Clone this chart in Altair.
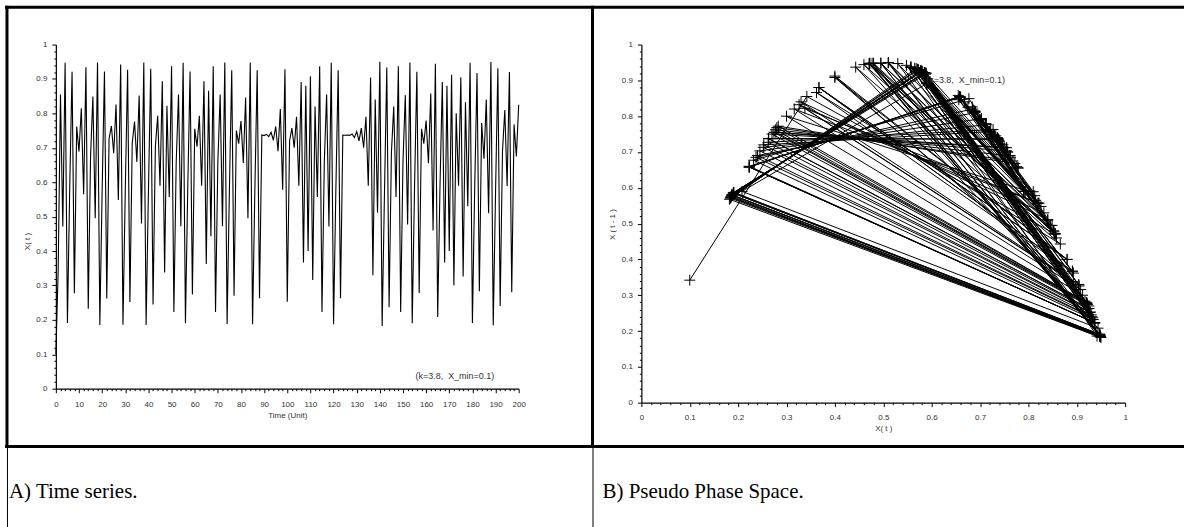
import altair as alt
import pandas as pd

# ---------------- data ----------------
t_values = list(range(201))
x_values = [
    0.100, 0.342, 0.855, 0.471, 0.947, 0.191, 0.587, 0.921, 0.277, 0.762,
    0.689, 0.815, 0.565, 0.934, 0.232, 0.677, 0.849, 0.495, 0.948, 0.185,
    0.575, 0.922, 0.262, 0.727, 0.763, 0.684, 0.826, 0.548, 0.942, 0.186,
    0.577, 0.927, 0.252, 0.713, 0.776, 0.659, 0.852, 0.480, 0.948, 0.185,
    0.573, 0.930, 0.245, 0.703, 0.793, 0.590, 0.893, 0.338, 0.822, 0.557,
    0.937, 0.223, 0.658, 0.855, 0.472, 0.947, 0.190, 0.585, 0.922, 0.274,
    0.755, 0.703, 0.793, 0.590, 0.893, 0.362, 0.866, 0.443, 0.937, 0.223,
    0.658, 0.855, 0.472, 0.948, 0.188, 0.580, 0.925, 0.270, 0.750, 0.712,
    0.778, 0.656, 0.846, 0.495, 0.948, 0.187, 0.580, 0.925, 0.263, 0.7375,
    0.7355, 0.7390, 0.7325, 0.745, 0.722, 0.762, 0.690, 0.813, 0.578, 0.928,
    0.253, 0.720, 0.757, 0.700, 0.790, 0.590, 0.891, 0.367, 0.880, 0.400,
    0.908, 0.316, 0.820, 0.557, 0.937, 0.223, 0.658, 0.855, 0.471, 0.947,
    0.187, 0.580, 0.925, 0.263, 0.7370, 0.7366, 0.7372, 0.7361, 0.7400, 0.7295,
    0.747, 0.720, 0.757, 0.700, 0.790, 0.590, 0.904, 0.330, 0.840, 0.511,
    0.950, 0.182, 0.568, 0.933, 0.237, 0.685, 0.820, 0.557, 0.937, 0.223,
    0.660, 0.853, 0.477, 0.948, 0.190, 0.585, 0.921, 0.278, 0.755, 0.712,
    0.779, 0.655, 0.858, 0.460, 0.944, 0.208, 0.590, 0.891, 0.367, 0.880,
    0.400, 0.912, 0.300, 0.800, 0.590, 0.905, 0.326, 0.832, 0.530, 0.947,
    0.191, 0.587, 0.917, 0.283, 0.772, 0.668, 0.840, 0.510, 0.949, 0.184,
    0.571, 0.931, 0.240, 0.690, 0.810, 0.589, 0.920, 0.280, 0.768, 0.675,
    0.825,
]

ts_title_x = "Time (Unit)"
ts_title_y = "X( t )"
ph_title_x = "X( t )"
ph_title_y = "X ( t - 1 )"
note_label = "(k=3.8,\u00a0 X_min=0.1)"
caption_a = "A) Time series."
caption_b = "B) Pseudo Phase Space."

time_major = list(range(0, 201, 10))
time_minor = [v for v in range(0, 201, 2) if v % 10 != 0]
unit_major = [i / 10 for i in range(11)]
unit_minor = [i / 50 for i in range(51) if i % 5 != 0]

ts = pd.DataFrame({"t": t_values, "x": x_values})
ph = pd.DataFrame({"step": t_values[:-1], "xt": x_values[:-1], "xnext": x_values[1:]})
note_df = pd.DataFrame({"txt": [note_label]})
cap_a_df = pd.DataFrame({"txt": [caption_a]})
cap_b_df = pd.DataFrame({"txt": [caption_b]})

# ---------------- style ----------------
FONT = "Liberation Sans"
SERIF = "Liberation Serif"
INK = "#000000"
LAB = "#333333"
PLUS = "M-1,0L1,0M0,-1L0,1"

LW, LH = 464, 345
RW, RH = 485, 359
GAP = 123


def axis_major(values, fmt, title, label_pad, **kw):
    return alt.Axis(
        values=values, format=fmt, title=title, grid=False, zindex=1,
        domainColor=INK, domainWidth=1.2, tickColor=INK, tickWidth=1, tickSize=4,
        labelFont=FONT, labelFontSize=8, labelColor=LAB, labelPadding=label_pad,
        labelFlush=False, labelOverlap=False,
        titleFont=FONT, titleFontSize=8, titleFontWeight="normal", titleColor=LAB,
        **kw,
    )


def axis_minor(values, orient):
    return alt.Axis(
        values=values, orient=orient, labels=False, domain=False, grid=False,
        title="", tickColor=INK, tickWidth=1, tickSize=2, zindex=1,
    )


# ---------------- left panel: time series ----------------
xs_l = alt.Scale(domain=[0, 200], nice=False, zero=False)
ys_l = alt.Scale(domain=[0, 1], nice=False)

bg = alt.Chart(note_df).mark_rect(color="white", opacity=1).encode(
    x=alt.value(-55), x2=alt.value(1131), y=alt.value(-43), y2=alt.value(484)
)

line_l = alt.Chart(ts).mark_line(color=INK, strokeWidth=1.1).encode(
    x=alt.X("t:Q", scale=xs_l,
            axis=axis_major(time_major, "d", ts_title_x, 8, orient="bottom", titlePadding=3)),
    y=alt.Y("x:Q", scale=ys_l,
            axis=axis_major(unit_major, "~g", ts_title_y, 5, orient="left",
                            titleX=-28, titleY=197, titleBaseline="middle")),
)
minor_l = alt.Chart(ts).mark_line(strokeOpacity=0).encode(
    x=alt.X("t:Q", scale=xs_l, axis=axis_minor(time_minor, "bottom")),
    y=alt.Y("x:Q", scale=ys_l, axis=axis_minor(unit_minor, "left")),
)
note_l = alt.Chart(note_df).mark_text(
    font=FONT, fontSize=9, color=LAB, align="center", baseline="middle"
).encode(x=alt.value(400), y=alt.value(332), text="txt:N")
cap_l = alt.Chart(cap_a_df).mark_text(
    font=SERIF, fontSize=21, color=INK, align="left", baseline="alphabetic"
).encode(x=alt.value(-47), y=alt.value(455), text="txt:N")

# table frame: heavy lines round the plot cells, thin lines round the captions
heavy = alt.Chart(note_df).mark_rule(color=INK, strokeWidth=3)
thin = alt.Chart(note_df).mark_rule(color=INK, strokeWidth=1)
borders = [
    heavy.encode(x=alt.value(-51), x2=alt.value(1131), y=alt.value(-37.5)),
    heavy.encode(x=alt.value(-51), x2=alt.value(1131), y=alt.value(403)),
    heavy.encode(x=alt.value(-49), y=alt.value(-39), y2=alt.value(403)),
    heavy.encode(x=alt.value(538), y=alt.value(-39), y2=alt.value(403)),
    thin.encode(x=alt.value(-48.5), y=alt.value(403), y2=alt.value(484)),
    thin.encode(x=alt.value(538.5), y=alt.value(403), y2=alt.value(484)),
]

left = alt.layer(bg, line_l, minor_l, note_l, cap_l, *borders).properties(
    width=LW, height=LH
).resolve_axis(x="independent", y="independent")

# ---------------- right panel: pseudo phase space ----------------
xs_r = alt.Scale(domain=[0, 1], nice=False, zero=False)
ys_r = alt.Scale(domain=[0, 1], nice=False)

line_r = alt.Chart(ph).mark_line(color=INK, strokeWidth=1).encode(
    x=alt.X("xt:Q", scale=xs_r,
            axis=axis_major(unit_major, "~g", ph_title_x, 7, orient="bottom", titlePadding=3)),
    y=alt.Y("xnext:Q", scale=ys_r,
            axis=axis_major(unit_major, "~g", ph_title_y, 5, orient="left",
                            titleX=-29, titleY=180, titleBaseline="middle")),
    order=alt.Order("step:Q"),
)
pts_r = alt.Chart(ph).mark_point(
    shape=PLUS, size=121, filled=False, stroke=INK, strokeWidth=1, opacity=1
).encode(
    x=alt.X("xt:Q", scale=xs_r, axis=None),
    y=alt.Y("xnext:Q", scale=ys_r, axis=None),
)
minor_r = alt.Chart(ph).mark_line(strokeOpacity=0).encode(
    x=alt.X("xt:Q", scale=xs_r, axis=axis_minor(unit_minor, "bottom")),
    y=alt.Y("xnext:Q", scale=ys_r, axis=axis_minor(unit_minor, "left")),
)
note_r = alt.Chart(note_df).mark_text(
    font=FONT, fontSize=9, color=LAB, align="center", baseline="middle"
).encode(x=alt.value(325), y=alt.value(36), text="txt:N")
cap_r = alt.Chart(cap_b_df).mark_text(
    font=SERIF, fontSize=21, color=INK, align="left", baseline="alphabetic"
).encode(x=alt.value(-39), y=alt.value(455), text="txt:N")

right = alt.layer(line_r, pts_r, minor_r, note_r, cap_r).properties(
    width=RW, height=RH
).resolve_axis(x="independent", y="independent")

chart = alt.hconcat(left, right, spacing=GAP, bounds="flush").properties(
    padding=0
).configure_view(stroke="transparent")

chart.save("out.html", embed_options={"renderer": "svg", "actions": False})
